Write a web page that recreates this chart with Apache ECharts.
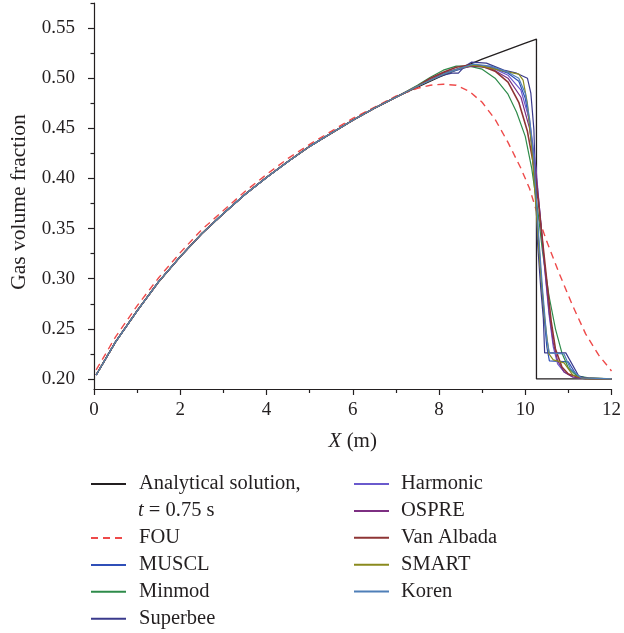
<!DOCTYPE html>
<html>
<head>
<meta charset="utf-8">
<script src="https://cdn.jsdelivr.net/npm/echarts@6/dist/echarts.min.js"></script>
<style>html,body{margin:0;padding:0;background:#fff}#c{width:624px;height:633px}</style>
</head>
<body>
<div id="c"></div>
<script>
// ---------- data ----------
const headX = [0.05,0.5,1,1.5,2,2.5,3,3.5,4,4.5,5,5.5,6,6.5,7];
const analyticHeadY = [0.204,0.237,0.268,0.297,0.322,0.345,0.365,0.384,0.401,0.417,0.432,0.445,0.458,0.470,0.481];
const schemesHeadY  = [0.204,0.237,0.268,0.297,0.322,0.345,0.365,0.384,0.401,0.417,0.432,0.445,0.458,0.470,0.481];
const fouHeadY      = [0.209,0.242,0.273,0.301,0.326,0.349,0.368,0.387,0.404,0.420,0.434,0.447,0.460,0.471,0.482];

const analyticTailX = [7.5,8,8.5,9,9.5,10,10.26,10.26,12];
const analyticTailY = [0.491,0.501,0.510,0.519,0.527,0.535,0.539,0.200,0.200];

const fouTailX = [7.5,7.8,8.1,8.4,8.7,9.0,9.3,9.6,9.9,10.1,10.3,10.5,10.8,11.1,11.4,11.7,12];
const fouTailY = [0.490,0.493,0.494,0.493,0.487,0.476,0.459,0.436,0.410,0.390,0.362,0.337,0.304,0.273,0.245,0.224,0.208];

const musclTailX = [7.5,7.8,8.1,8.5,8.8,9.2,9.6,9.85,10.0,10.1,10.2,10.3,10.4,10.5,10.56,11.0,11.2,11.5,12];
const musclTailY = [0.492,0.498,0.504,0.509,0.513,0.511,0.505,0.497,0.480,0.455,0.410,0.345,0.280,0.232,0.218,0.217,0.203,0.200,0.200];

const minmodTailX = [7.5,7.8,8.1,8.4,8.7,9.0,9.3,9.6,9.8,10.0,10.15,10.3,10.4,10.55,10.7,10.85,11.0,11.2,11.5,12];
const minmodTailY = [0.493,0.501,0.508,0.512,0.512,0.509,0.500,0.484,0.466,0.442,0.410,0.365,0.327,0.283,0.250,0.226,0.211,0.203,0.201,0.200];

const superbeeTailX = [7.5,7.8,8.1,8.3,8.45,8.6,8.75,9.1,9.5,9.8,10.05,10.13,10.2,10.28,10.36,10.42,10.45,10.94,11.24,11.5,12];
const superbeeTailY = [0.492,0.498,0.503,0.505,0.505,0.512,0.516,0.515,0.508,0.505,0.500,0.485,0.449,0.339,0.290,0.260,0.226,0.226,0.203,0.200,0.200];

const harmonicTailX = [7.5,8.1,8.5,8.8,9.2,9.6,9.9,10.1,10.25,10.35,10.45,10.55,10.65,10.75,10.9,11.1,11.4,12];
const harmonicTailY = [0.492,0.505,0.510,0.513,0.511,0.503,0.488,0.458,0.410,0.360,0.310,0.265,0.232,0.215,0.207,0.202,0.200,0.200];

const osprTailX = [7.5,8.1,8.5,8.8,9.2,9.6,9.9,10.1,10.25,10.35,10.45,10.55,10.65,10.75,10.9,11.1,11.4,12];
const osprTailY = [0.492,0.505,0.510,0.512,0.510,0.500,0.481,0.450,0.405,0.362,0.312,0.268,0.236,0.218,0.207,0.202,0.200,0.200];

const vanAlbadaTailX = [7.5,7.8,8.1,8.4,8.7,9.0,9.3,9.6,9.85,10.05,10.2,10.3,10.4,10.5,10.6,10.7,10.85,11.0,11.3,12];
const vanAlbadaTailY = [0.492,0.500,0.506,0.511,0.513,0.512,0.507,0.496,0.476,0.447,0.412,0.378,0.338,0.298,0.258,0.230,0.212,0.205,0.201,0.200];

const smartTailX = [7.5,8.1,8.5,8.8,9.1,9.5,9.85,9.95,10.05,10.15,10.25,10.35,10.45,10.55,10.65,10.9,11.1,11.4,12];
const smartTailY = [0.492,0.504,0.510,0.513,0.511,0.507,0.504,0.498,0.475,0.430,0.370,0.310,0.260,0.225,0.219,0.216,0.204,0.200,0.200];

const korenTailX = [7.5,8.1,8.5,8.8,9.2,9.6,9.85,10.0,10.1,10.2,10.3,10.4,10.5,10.56,10.9,11.05,11.3,12];
const korenTailY = [0.492,0.504,0.510,0.514,0.512,0.506,0.500,0.485,0.460,0.420,0.350,0.290,0.240,0.226,0.225,0.210,0.201,0.200];

const yMajorTicks = [0.20,0.25,0.30,0.35,0.40,0.45,0.50,0.55];
const yMinorTicks = [0.225,0.275,0.325,0.375,0.425,0.475,0.525,0.575];

// ---------- build ----------
function pairs(hx, hy, tx, ty) {
  const out = hx.map((x, i) => [x, hy[i]]);
  tx.forEach((x, i) => out.push([x, ty[i]]));
  return out;
}
const FONT = 'Liberation Serif';
const INK = '#231f20';

const seriesDefs = [
  {name: 'Analytical solution,', color: '#231f20', data: pairs(headX, analyticHeadY, analyticTailX, analyticTailY), width: 1.3},
  {name: 'FOU', color: '#ee4a4a', data: pairs(headX, fouHeadY, fouTailX, fouTailY), width: 1.4, dash: [7, 5]},
  {name: 'MUSCL', color: '#2f4fb8', data: pairs(headX, schemesHeadY, musclTailX, musclTailY)},
  {name: 'Minmod', color: '#2e8b4a', data: pairs(headX, schemesHeadY, minmodTailX, minmodTailY)},
  {name: 'Superbee', color: '#3a3a8c', data: pairs(headX, schemesHeadY, superbeeTailX, superbeeTailY)},
  {name: 'Harmonic', color: '#6a5acd', data: pairs(headX, schemesHeadY, harmonicTailX, harmonicTailY)},
  {name: 'OSPRE', color: '#7d2f82', data: pairs(headX, schemesHeadY, osprTailX, osprTailY)},
  {name: 'Van Albada', color: '#8e3535', data: pairs(headX, schemesHeadY, vanAlbadaTailX, vanAlbadaTailY), width: 1.6},
  {name: 'SMART', color: '#8a8a1e', data: pairs(headX, schemesHeadY, smartTailX, smartTailY)},
  {name: 'Koren', color: '#4f7fb8', data: pairs(headX, schemesHeadY, korenTailX, korenTailY)}
];

const series = seriesDefs.map(s => ({
  name: s.name,
  type: 'line',
  xAxisIndex: 0,
  yAxisIndex: 0,
  data: s.data,
  symbol: 'none',
  showSymbol: false,
  smooth: false,
  color: s.color,
  lineStyle: {color: s.color, width: s.width || 1.2, type: s.dash || 'solid'},
  emphasis: {disabled: true},
  z: 2
}));

const legendText = {fontFamily: FONT, fontSize: 20.5, color: INK, lineHeight: 20};
const legendCommon = {
  orient: 'vertical', padding: 0, itemWidth: 35, itemHeight: 20, itemGap: 5.9,
  selectedMode: false, itemStyle: {opacity: 0}
};

const option = {
  animation: false,
  backgroundColor: '#ffffff',
  grid: {left: 91, right: 11, top: 3, bottom: 244, containLabel: false},
  xAxis: {
    type: 'value', min: 0, max: 12, interval: 2,
    name: '{i|X} (m)', nameLocation: 'middle', nameGap: 42,
    nameTextStyle: {fontFamily: FONT, fontSize: 21, color: INK,
      rich: {i: {fontFamily: FONT, fontSize: 21, fontStyle: 'italic', color: INK}}},
    axisLine: {show: true, onZero: false, lineStyle: {color: INK, width: 1.2}},
    axisTick: {show: true, length: 6, lineStyle: {color: INK, width: 1.2}},
    minorTick: {show: true, splitNumber: 2, length: 4, lineStyle: {color: INK, width: 1.2}},
    axisLabel: {fontFamily: FONT, fontSize: 19, color: INK, margin: 12},
    splitLine: {show: false}
  },
  yAxis: [
    {
      type: 'value', min: 0.19, max: 0.575,
      name: 'Gas volume fraction', nameLocation: 'middle', nameGap: 64,
      nameTextStyle: {fontFamily: FONT, fontSize: 21.5, color: INK, padding: [0, 12, 0, 0]},
      axisLine: {show: true, onZero: false, lineStyle: {color: INK, width: 1.2}},
      axisTick: {show: true, length: 6, customValues: yMajorTicks, lineStyle: {color: INK, width: 1.2}},
      axisLabel: {fontFamily: FONT, fontSize: 19, color: INK, margin: 19, customValues: yMajorTicks,
        formatter: v => Number(v).toFixed(2)},
      splitLine: {show: false}
    },
    {
      type: 'value', min: 0.19, max: 0.575, position: 'left',
      axisLine: {show: false},
      axisTick: {show: true, length: 3.5, customValues: yMinorTicks, lineStyle: {color: INK, width: 1.2}},
      axisLabel: {show: false},
      splitLine: {show: false}
    }
  ],
  legend: [
    Object.assign({data: ['Analytical solution,'], left: 90, top: 473.5,
      textStyle: Object.assign({padding: [0, 0, 0, 8]}, legendText)}, legendCommon),
    Object.assign({data: ['FOU', 'MUSCL', 'Minmod', 'Superbee'], left: 90, top: 527.5,
      textStyle: Object.assign({padding: [0, 0, 0, 8]}, legendText)}, legendCommon),
    Object.assign({data: ['Harmonic', 'OSPRE', 'Van Albada', 'SMART', 'Koren'], left: 353, top: 473.5,
      textStyle: Object.assign({padding: [0, 0, 0, 7]}, legendText)}, legendCommon)
  ],
  graphic: [
    {
      type: 'text', left: 138, top: 500,
      style: {
        text: '{i|t} = 0.75 s',
        font: '20.5px "Liberation Serif"',
        fill: INK,
        rich: {i: {fontFamily: FONT, fontSize: 20.5, fontStyle: 'italic', fill: INK}}
      }
    }
  ],
  series: series
};

const chart = echarts.init(document.getElementById('c'), null, {renderer: 'canvas'});
chart.setOption(option);
</script>
</body>
</html>
